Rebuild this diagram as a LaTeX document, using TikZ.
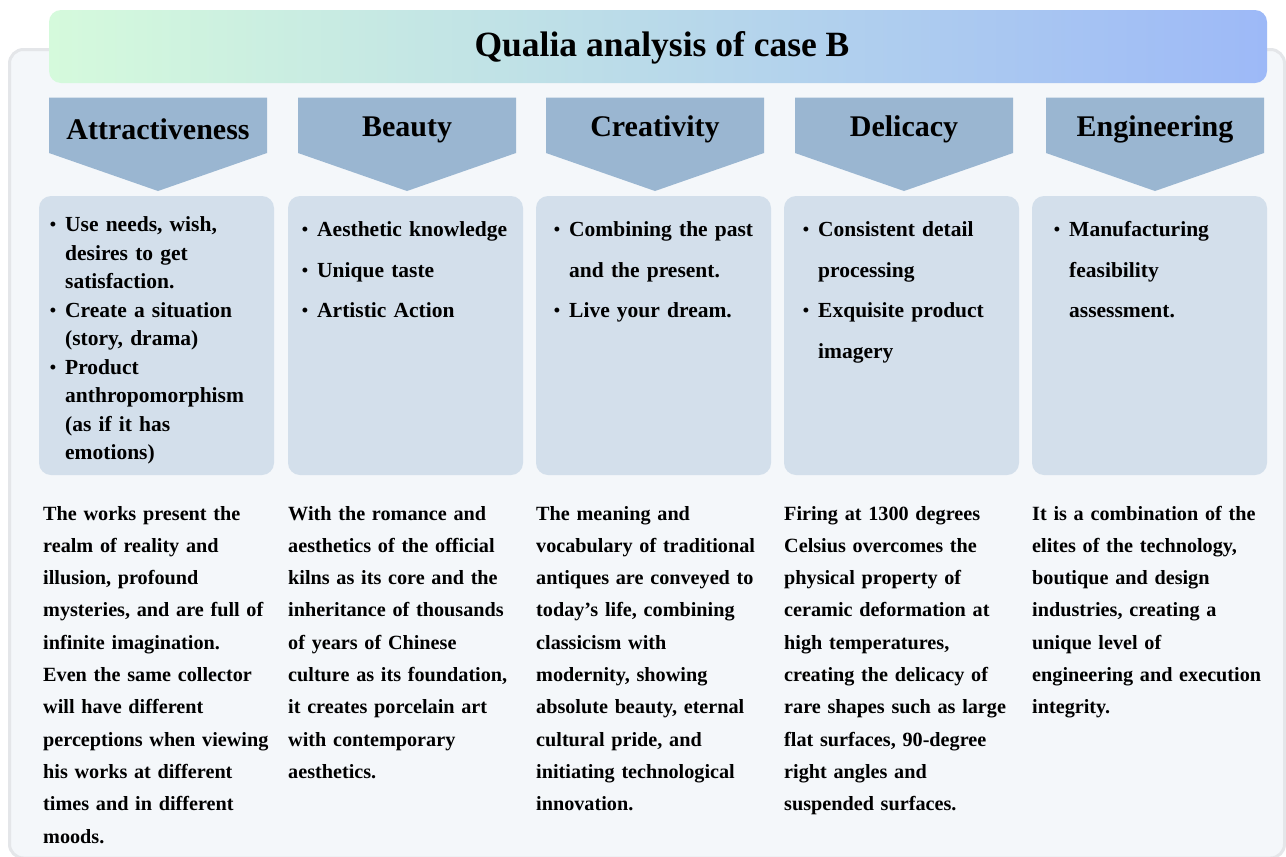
\documentclass[tikz,border=0pt]{standalone}
\usepackage{fontspec}
\setmainfont{Liberation Serif}
\definecolor{panelfill}{HTML}{F4F7FA}
\definecolor{panelborder}{HTML}{E4E6E9}
\definecolor{hdrfill}{HTML}{9AB6D1}
\definecolor{boxfill}{HTML}{D3DFEB}
\definecolor{gradL}{HTML}{D5FADC}
\definecolor{gradR}{HTML}{9DB9F7}
\newcommand{\bul}{\leavevmode\llap{\raisebox{1pt}{\fontsize{18}{18}\selectfont •}\hspace{9pt}}}
\tikzset{
  titletxt/.style={font=\fontsize{35.5}{40}\selectfont\bfseries, inner sep=0pt},
  hdrtxt/.style={font=\fontsize{30}{34}\selectfont\bfseries, inner sep=0pt},
  hdrshape/.style={fill=hdrfill},
  boxshape/.style={fill=boxfill, rounded corners=12pt},
  listA/.style={anchor=base west, inner sep=0pt, text width=215pt, align=left,
    font=\fontsize{21.5}{28.5}\selectfont\bfseries},
  listB/.style={anchor=base west, inner sep=0pt, text width=215pt, align=left,
    font=\fontsize{21.5}{40.5}\selectfont\bfseries},
  para/.style={anchor=base west, inner sep=0pt, text width=250pt, align=left,
    font=\fontsize{20.2}{32.3}\selectfont\bfseries},
}
\begin{document}
\begin{tikzpicture}[x=1pt,y=-1pt]
\useasboundingbox (0,0) rectangle (1286,857);
\clip (0,0) rectangle (1286,857);
\fill[white] (0,0) rectangle (1286,857);
% outer panel
\draw[line width=3pt, draw=panelborder, fill=panelfill, rounded corners=14pt]
  (9.5,49.5) rectangle (1284.5,858);
% title banner
\shade[left color=gradL, right color=gradR, rounded corners=12pt] (49,10) rectangle (1267,83);
\node[titletxt] (title) at (662,47.5) {Qualia analysis of case B};
% headers
\foreach \x/\t/\n in {49/Attractiveness/h1, 298/Beauty/h2, 546/Creativity/h3, 795/Delicacy/h4, 1046/Engineering/h5}{
  \fill[hdrshape] (\x,97.5) -- ++(218,0) -- ++(0,55.5) -- ++(-109,38) -- ++(-109,-38) -- cycle;
  \node[hdrtxt] (\n) at (\x+109,129.5) {\t};
}
% boxes
\foreach \x in {39,288,536,784,1032}{
  \fill[boxshape] (\x,196) rectangle ++(235,279);
}
% box texts
\node[listA] (b1) at (65,231.7) {\bul Use needs, wish,\\ desires to get\\ satisfaction.\\ \bul Create a situation\\ (story, drama)\\ \bul Product\\ anthropomorphism\\ (as if it has\\ emotions)};
\node[listB] (b2) at (317,236.5) {\bul Aesthetic knowledge\\ \bul Unique taste\\ \bul Artistic Action};
\node[listB] (b3) at (569,236.5) {\bul Combining the past\\ and the present.\\ \bul Live your dream.};
\node[listB] (b4) at (818,236.5) {\bul Consistent detail\\ processing\\ \bul Exquisite product\\ imagery};
\node[listB] (b5) at (1069,236.5) {\bul Manufacturing\\ feasibility\\ assessment.};
% paragraphs
\node[para] (p1) at (43,520) {The works present the\\ realm of reality and\\ illusion, profound\\ mysteries, and are full of\\ infinite imagination.\\ Even the same collector\\ will have different\\ perceptions when viewing\\ his works at different\\ times and in different\\ moods.};
\node[para] (p2) at (288,520) {With the romance and\\ aesthetics of the official\\ kilns as its core and the\\ inheritance of thousands\\ of years of Chinese\\ culture as its foundation,\\ it creates porcelain art\\ with contemporary\\ aesthetics.};
\node[para] (p3) at (536,520) {The meaning and\\ vocabulary of traditional\\ antiques are conveyed to\\ today's life, combining\\ classicism with\\ modernity, showing\\ absolute beauty, eternal\\ cultural pride, and\\ initiating technological\\ innovation.};
\node[para] (p4) at (784,520) {Firing at 1300 degrees\\ Celsius overcomes the\\ physical property of\\ ceramic deformation at\\ high temperatures,\\ creating the delicacy of\\ rare shapes such as large\\ flat surfaces, 90-degree\\ right angles and\\ suspended surfaces.};
\node[para] (p5) at (1032,520) {It is a combination of the\\ elites of the technology,\\ boutique and design\\ industries, creating a\\ unique level of\\ engineering and execution\\ integrity.};
\end{tikzpicture}
\end{document}
